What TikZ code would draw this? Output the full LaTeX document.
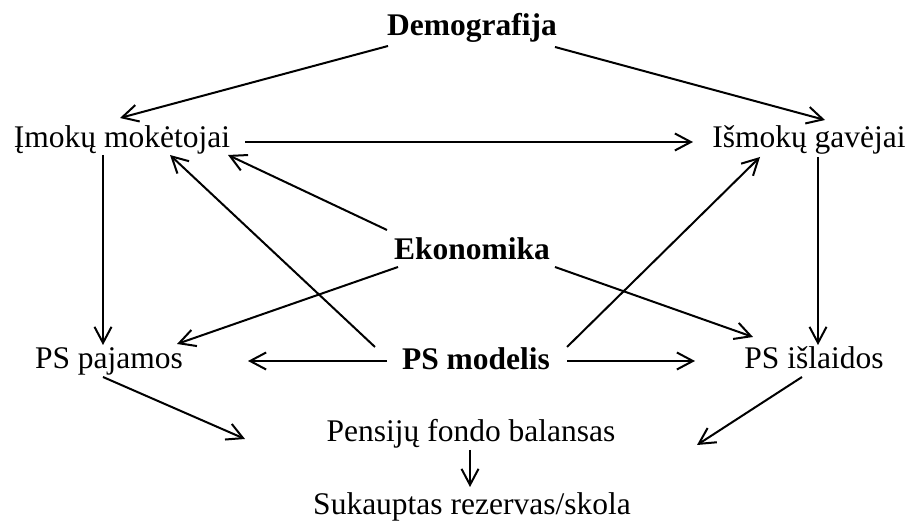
\documentclass[tikz,border=0pt]{standalone}
\usepackage{fontspec}
\setmainfont{Liberation Serif}
\usetikzlibrary{arrows.meta}
\begin{document}
\begin{tikzpicture}[x=0.5pt,y=-0.5pt,
  lbl/.style={inner sep=0pt, anchor=base, font=\fontsize{15.75}{18}\selectfont},
  key/.style={lbl, font=\fontsize{15.75}{18}\selectfont\bfseries},
  link/.style={line width=1pt, -{Straight Barb[length=8pt,width=8.5pt]}}]
\useasboundingbox (0,0) rectangle (910,522);

% factors and model components
\node[key] (dem) at (472,36)  {Demografija};
\node[lbl] (imk) at (122,148) {Įmokų mokėtojai};
\node[lbl] (ism) at (809,148) {Išmokų gavėjai};
\node[key] (eko) at (472,260) {Ekonomika};
\node[lbl] (paj) at (109,369) {PS pajamos};
\node[key] (mod) at (476,370) {PS modelis};
\node[lbl] (isl) at (814,369) {PS išlaidos};
\node[lbl] (bal) at (471,442) {Pensijų fondo balansas};
\node[lbl] (rez) at (472,515) {Sukauptas rezervas/skola};

% connector end points
\coordinate (dem-l) at (388,46);
\coordinate (dem-r) at (555,47);
\coordinate (imk-in) at (120,118);
\coordinate (ism-in) at (825,120);
\coordinate (imk-r) at (245,142);
\coordinate (ism-l) at (693,142);
\coordinate (eko-ul) at (387,230);
\coordinate (imk-br) at (228,155);
\coordinate (mod-ul) at (375,347);
\coordinate (imk-bm) at (170,155);
\coordinate (eko-ll) at (398,267);
\coordinate (paj-ur) at (177,344);
\coordinate (eko-lr) at (555,267);
\coordinate (isl-ul) at (753,337);
\coordinate (mod-ur) at (567,347);
\coordinate (ism-bl) at (760,157);
\coordinate (imk-b) at (103,155);
\coordinate (paj-t) at (103,345);
\coordinate (ism-b) at (818,157);
\coordinate (isl-t) at (818,345);
\coordinate (mod-l) at (387,361);
\coordinate (paj-r) at (248,361);
\coordinate (mod-r) at (567,361);
\coordinate (isl-l) at (695,361);
\coordinate (paj-b) at (103,377);
\coordinate (bal-l) at (245,439);
\coordinate (isl-b) at (802,377);
\coordinate (bal-r) at (697,445);
\coordinate (bal-b) at (470,450);
\coordinate (rez-t) at (470,487);

% influences
\draw[link] (dem-l) -- (imk-in);
\draw[link] (dem-r) -- (ism-in);
\draw[link] (imk-r) -- (ism-l);
\draw[link] (eko-ul) -- (imk-br);
\draw[link] (mod-ul) -- (imk-bm);
\draw[link] (eko-ll) -- (paj-ur);
\draw[link] (eko-lr) -- (isl-ul);
\draw[link] (mod-ur) -- (ism-bl);
\draw[link] (imk-b) -- (paj-t);
\draw[link] (ism-b) -- (isl-t);
\draw[link] (mod-l) -- (paj-r);
\draw[link] (mod-r) -- (isl-l);
\draw[link] (paj-b) -- (bal-l);
\draw[link] (isl-b) -- (bal-r);
\draw[link] (bal-b) -- (rez-t);
\end{tikzpicture}
\end{document}
